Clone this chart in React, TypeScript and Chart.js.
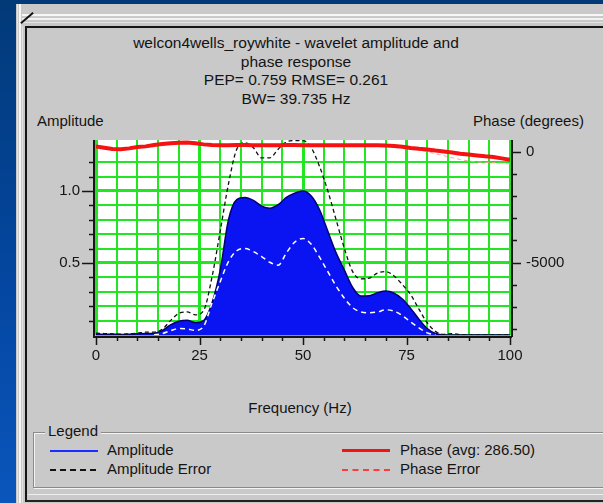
import React, { useEffect, useRef } from 'react';
import { Chart, registerables } from 'chart.js';

Chart.register(...registerables);

// ---------- data ----------
const freqHz = [
  0, 2, 4, 6, 8, 10, 12, 14, 16, 18, 20, 22, 24, 26, 28, 30, 32, 34, 36, 38,
  40, 42, 44, 46, 48, 50, 52, 54, 56, 58, 60, 62, 64, 66, 68, 70, 72, 74, 76, 78,
  80, 82, 84, 86, 88, 90, 92, 94, 96, 98, 100,
];

const amplitude = [
  0.005, 0.005, 0.005, 0.004, 0.006, 0.008, 0.01, 0.012, 0.03, 0.07, 0.095, 0.102, 0.085, 0.1, 0.22, 0.45, 0.8, 0.94, 0.955, 0.935,
  0.895, 0.88, 0.905, 0.955, 0.985, 1.0, 0.965, 0.87, 0.72, 0.57, 0.45, 0.33, 0.27, 0.272, 0.293, 0.305, 0.29, 0.25, 0.185, 0.11,
  0.045, 0.01, 0, 0, 0, 0, 0, 0, 0, 0, 0,
];

const amplitudeErrorUpper = [
  0.012, 0.01, 0.008, 0.006, 0.008, 0.012, 0.02, 0.02, 0.04, 0.1, 0.15, 0.16, 0.14, 0.17, 0.4, 0.72, 1.05, 1.29, 1.335, 1.3,
  1.23, 1.23, 1.29, 1.34, 1.35, 1.35, 1.3, 1.17, 1.0, 0.8, 0.6, 0.44, 0.39, 0.395, 0.43, 0.44, 0.41, 0.35, 0.28, 0.18,
  0.085, 0.025, 0.005, 0.01, 0.004, 0, 0, 0, 0, 0, 0,
];

const amplitudeErrorLower = [
  null, null, null, null, null, null, null, 0, 0.01, 0.03, 0.045, 0.042, 0.032, 0.06, 0.22, 0.37, 0.51, 0.585, 0.6, 0.58,
  0.545, 0.505, 0.485, 0.57, 0.645, 0.67, 0.63, 0.54, 0.44, 0.34, 0.255, 0.19, 0.16, 0.155, 0.16, 0.175, 0.165, 0.135, 0.09, 0.05,
  0.015, 0, null, null, null, null, null, null, null, null, null,
];

const phaseDeg = [
  240, 180, 120, 110, 150, 210, 240, 300, 350, 380, 400, 410, 380, 330, 300, 290, 295, 300, 300, 295,
  290, 290, 295, 300, 300, 295, 290, 290, 290, 290, 290, 290, 290, 290, 285, 280, 260, 220, 170, 130,
  100, 50, 10, -40, -90, -130, -170, -210, -240, -300, -360,
];

const phaseErrorDeg = [
  null, null, null, null, null, null, null, null, null, null, null, null, null, null, null, null, null, null, null, null,
  null, null, null, null, null, null, null, null, null, null, null, null, null, null, null, null, null, 200, 150, 80,
  0, -90, -180, -270, -350, -420, -460, -480, -500, -520, -550,
];

const xLabelTicks = [0, 25, 50, 75, 100];
const ampLabelTicks = [0.5, 1.0];
const phaseLabelTicks = [0, -5000];

const titleLines = [
  'welcon4wells_roywhite - wavelet amplitude and',
  'phase response',
  'PEP= 0.759 RMSE= 0.261',
  'BW= 39.735 Hz',
];

// ---------- styling ----------
const FONT = '"Liberation Sans", Arial, sans-serif';
const GREEN = '#22e622';
const TEXT = '#141414';

const pts = (arr: (number | null)[]) => freqHz.map((f, i) => ({ x: f, y: arr[i] }));
const near = (a: number, b: number) => Math.abs(a - b) < 1e-6;

const bgPlugin = {
  id: 'plotBg',
  beforeDraw(chart: any) {
    const { ctx, chartArea: a } = chart;
    ctx.save();
    ctx.fillStyle = '#ffffff';
    ctx.fillRect(a.left, a.top, a.right - a.left, a.bottom - a.top);
    ctx.restore();
  },
};

const axesPlugin = {
  id: 'axesDecor',
  afterDraw(chart: any) {
    const { ctx, chartArea: a, scales } = chart;
    const L = a.left - 2;
    const R = a.right + 2;
    const B = a.bottom + 2;
    ctx.save();
    ctx.strokeStyle = '#161616';
    ctx.lineWidth = 2;
    ctx.beginPath();
    ctx.moveTo(L, a.top);
    ctx.lineTo(L, B);
    ctx.lineTo(R, B);
    ctx.moveTo(R, a.top);
    ctx.lineTo(R, B);
    ctx.stroke();

    ctx.lineWidth = 1.5;
    ctx.beginPath();
    // left ticks
    for (const t of scales.y.ticks) {
      const v = t.value;
      if (!near(v * 10, Math.round(v * 10)) || near(v, 0)) continue;
      const y = Math.round(scales.y.getPixelForValue(v)) + 0.5;
      const len = ampLabelTicks.some((m) => near(v, m)) ? 12 : 5;
      ctx.moveTo(L - len, y);
      ctx.lineTo(L, y);
    }
    // bottom ticks
    for (const t of scales.x.ticks) {
      const v = t.value;
      const x = Math.round(scales.x.getPixelForValue(v)) + 0.5;
      const len = v % 25 === 0 ? 8 : 4;
      ctx.moveTo(x, B);
      ctx.lineTo(x, B + len);
    }
    // right ticks (every 1000 degrees)
    const y2 = scales.y2;
    const first = Math.ceil(y2.min / 1000) * 1000;
    for (let v = first; v <= y2.max; v += 1000) {
      const y = Math.round(y2.getPixelForValue(v)) + 0.5;
      const len = phaseLabelTicks.includes(v) ? 9 : 5;
      ctx.moveTo(R, y);
      ctx.lineTo(R + len, y);
    }
    ctx.stroke();

    // right tick labels
    ctx.fillStyle = TEXT;
    ctx.font = `15px ${FONT}`;
    ctx.textAlign = 'left';
    ctx.textBaseline = 'middle';
    for (const v of phaseLabelTicks) {
      ctx.fillText(String(v), R + 14, y2.getPixelForValue(v) + 0.5);
    }
    ctx.restore();
  },
};

function hline(top: number, left: number, h: number, color: string): React.CSSProperties {
  return { position: 'absolute', top, left, right: 0, height: h, background: color };
}
function vline(left: number, top: number, w: number, color: string): React.CSSProperties {
  return { position: 'absolute', left, top, bottom: 0, width: w, background: color };
}

export default function App() {
  const ref = useRef<HTMLCanvasElement>(null);

  useEffect(() => {
    document.body.style.margin = '0';
    const canvas = ref.current!;
    const chart = new Chart(canvas, {
      type: 'line',
      data: {
        datasets: [
          {
            label: 'Amplitude',
            data: pts(amplitude),
            yAxisID: 'y',
            borderColor: '#000070',
            borderWidth: 1.5,
            backgroundColor: '#0a14f2',
            fill: 'origin',
            cubicInterpolationMode: 'monotone',
            pointRadius: 0,
            order: 5,
          },
          {
            label: 'Amplitude Error (lower)',
            data: pts(amplitudeErrorLower),
            yAxisID: 'y',
            borderColor: '#ffffff',
            borderDash: [5, 4],
            borderWidth: 1.5,
            fill: false,
            cubicInterpolationMode: 'monotone',
            pointRadius: 0,
            spanGaps: false,
            order: 4,
          },
          {
            label: 'Amplitude Error',
            data: pts(amplitudeErrorUpper),
            yAxisID: 'y',
            borderColor: '#111111',
            borderDash: [4, 3],
            borderWidth: 1.3,
            fill: false,
            cubicInterpolationMode: 'monotone',
            pointRadius: 0,
            order: 3,
          },
          {
            label: 'Phase Error',
            data: pts(phaseErrorDeg),
            yAxisID: 'y2',
            borderColor: '#ffa0a0',
            borderDash: [4, 3],
            borderWidth: 1,
            fill: false,
            pointRadius: 0,
            spanGaps: false,
            order: 2,
          },
          {
            label: 'Phase (avg: 286.50)',
            data: pts(phaseDeg),
            yAxisID: 'y2',
            borderColor: '#f41212',
            borderWidth: 4,
            fill: false,
            tension: 0,
            pointRadius: 0,
            order: 1,
          },
        ] as any,
      },
      options: {
        responsive: false,
        animation: false,
        layout: { padding: { top: 140, left: 0, right: 0, bottom: 0 } },
        plugins: {
          legend: { display: false },
          title: { display: false },
          tooltip: { enabled: false },
        },
        scales: {
          x: {
            type: 'linear',
            position: 'bottom',
            min: 0,
            max: 100,
            afterFit: (s: any) => { s.height = 168; },
            border: { display: false },
            grid: {
              drawTicks: false,
              color: GREEN,
              lineWidth: (c: any) => (c.tick && c.tick.value % 25 === 0 ? 3 : 2),
            },
            ticks: {
              stepSize: 5,
              autoSkip: false,
              maxRotation: 0,
              padding: 12,
              color: TEXT,
              font: { family: FONT, size: 15 },
              callback: (v: any) => (xLabelTicks.includes(Number(v)) ? String(v) : ''),
            },
          },
          y: {
            type: 'linear',
            position: 'left',
            min: 0,
            max: 1.354,
            afterFit: (s: any) => { s.width = 96; },
            border: { display: false },
            grid: {
              drawTicks: false,
              color: (c: any) => {
                const v = c.tick ? c.tick.value : 0;
                return near(v * 10, Math.round(v * 10)) ? GREEN : 'rgba(0,0,0,0)';
              },
              lineWidth: (c: any) => {
                const v = c.tick ? c.tick.value : 0;
                return ampLabelTicks.some((m) => near(v, m)) ? 3 : 2;
              },
            },
            ticks: {
              stepSize: 0.1,
              autoSkip: false,
              padding: 16,
              color: TEXT,
              font: { family: FONT, size: 15 },
              callback: (v: any) => {
                const n = Number(v);
                const m = ampLabelTicks.find((t) => near(n, t));
                return m !== undefined ? m.toFixed(1) : '';
              },
            },
          },
          y2: {
            type: 'linear',
            position: 'right',
            min: -8257,
            max: 527,
            afterFit: (s: any) => { s.width = 93; },
            border: { display: false },
            grid: { display: false, drawTicks: false },
            ticks: { display: false },
          },
        },
      } as any,
      plugins: [bgPlugin, axesPlugin],
    });
    return () => chart.destroy();
  }, []);

  const txt: React.CSSProperties = {
    position: 'absolute',
    fontFamily: FONT,
    fontSize: 15,
    color: TEXT,
    whiteSpace: 'nowrap',
    lineHeight: '18px',
  };

  return (
    <div
      style={{
        position: 'fixed',
        left: 0,
        top: 0,
        width: 603,
        height: 503,
        overflow: 'hidden',
        background: 'linear-gradient(180deg, #023a78 0%, #0446a0 55%, #0a56bc 100%)',
      }}
    >
      {/* window body */}
      <div style={{ position: 'absolute', left: 16, top: 4, right: 0, bottom: 0, background: '#c9c9c9' }} />
      {/* top stripes */}
      <div style={hline(14, 22, 2, '#f6f6f6')} />
      <div style={hline(18, 22, 2, '#f2f2f2')} />
      <div style={hline(22, 22, 1, '#e4e4e4')} />
      {/* left stripes */}
      <div style={vline(17, 4, 1, '#e6e6e6')} />
      <div style={vline(19, 4, 2, '#f6f6f6')} />
      <div style={vline(22, 26, 1, '#e2e2e2')} />
      {/* little diagonal mark */}
      <div
        style={{
          position: 'absolute',
          left: 19,
          top: 17,
          width: 16,
          height: 2,
          background: '#111',
          transform: 'rotate(-40deg)',
        }}
      />
      {/* inner panel */}
      <div
        style={{
          position: 'absolute',
          left: 25,
          top: 26,
          right: -4,
          height: 476,
          boxSizing: 'border-box',
          borderLeft: '2px solid #161616',
          borderTop: '2px solid #161616',
          borderBottom: '2px solid #222',
          background: '#c9c9c9',
        }}
      />
      <div style={{ position: 'absolute', left: 28, right: 0, top: 494, height: 1, background: '#eeeeee' }} />

      {/* title */}
      <div style={{ ...txt, left: 96, width: 400, top: 34, textAlign: 'center', fontSize: 15.5, lineHeight: '18.7px' }}>
        {titleLines.map((l, i) => (
          <div key={i}>{l}</div>
        ))}
      </div>
      <div style={{ ...txt, left: 37, top: 112 }}>Amplitude</div>
      <div style={{ ...txt, left: 473, top: 112 }}>Phase (degrees)</div>
      <div style={{ ...txt, left: 200, width: 200, top: 399, textAlign: 'center' }}>Frequency (Hz)</div>

      {/* legend group box */}
      <div
        style={{
          position: 'absolute',
          left: 33,
          top: 432,
          right: -4,
          height: 56,
          boxSizing: 'border-box',
          border: '1px solid #8a8a8a',
          boxShadow: 'inset 1px 1px 0 #f4f4f4, 1px 1px 0 #f4f4f4',
        }}
      />
      <div style={{ ...txt, left: 45, top: 422, padding: '0 3px', background: '#c9c9c9' }}>Legend</div>

      <div style={{ position: 'absolute', left: 50, top: 450, width: 48, height: 2, background: '#1a2cff' }} />
      <div style={{ ...txt, left: 107, top: 441 }}>Amplitude</div>
      <div style={{ position: 'absolute', left: 50, top: 469, width: 46, height: 0, borderTop: '2px dashed #111' }} />
      <div style={{ ...txt, left: 107, top: 460 }}>Amplitude Error</div>

      <div style={{ position: 'absolute', left: 342, top: 449, width: 48, height: 3, background: '#f41212' }} />
      <div style={{ ...txt, left: 400, top: 441 }}>Phase (avg: 286.50)</div>
      <div style={{ position: 'absolute', left: 342, top: 469, width: 48, height: 0, borderTop: '2px dashed #ff3b3b' }} />
      <div style={{ ...txt, left: 400, top: 460 }}>Phase Error</div>

      <canvas
        ref={ref}
        width={603}
        height={503}
        style={{ position: 'absolute', left: 0, top: 0, width: 603, height: 503 }}
      />
    </div>
  );
}
